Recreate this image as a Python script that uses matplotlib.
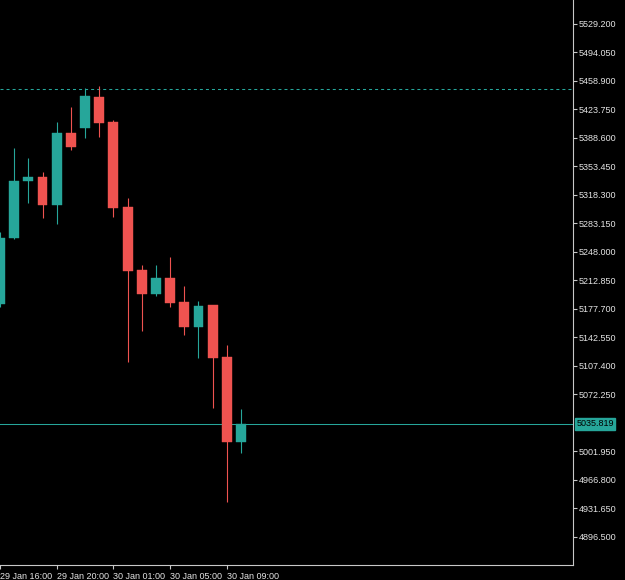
import numpy as np
import matplotlib.pyplot as plt

# hourly candles, 29 Jan 16:00 .. 30 Jan 10:00 (no 00:00 bar)
times = ["29 Jan 16:00", "29 Jan 17:00", "29 Jan 18:00", "29 Jan 19:00", "29 Jan 20:00",
         "29 Jan 21:00", "29 Jan 22:00", "29 Jan 23:00", "30 Jan 01:00", "30 Jan 02:00",
         "30 Jan 03:00", "30 Jan 04:00", "30 Jan 05:00", "30 Jan 06:00", "30 Jan 07:00",
         "30 Jan 08:00", "30 Jan 09:00", "30 Jan 10:00"]
opens = [5183.7, 5264.5, 5335.8, 5340.4, 5305.8, 5394.7, 5400.9, 5439.1, 5408.3, 5303.4,
         5225.6, 5196.0, 5215.7, 5186.1, 5155.3, 5182.4, 5118.2, 5013.3]
highs = [5272.0, 5376.2, 5363.8, 5346.6, 5408.3, 5426.8, 5450.2, 5452.7, 5410.7, 5314.5,
         5231.8, 5231.8, 5241.7, 5205.9, 5187.4, 5182.4, 5133.1, 5054.1]
lows = [5180.0, 5264.0, 5308.3, 5289.8, 5282.4, 5373.7, 5388.5, 5389.7, 5291.0, 5112.1,
        5150.3, 5193.5, 5179.9, 5145.4, 5117.0, 5055.3, 4939.3, 4999.8]
closes = [5265.1, 5335.4, 5340.0, 5305.8, 5394.7, 5377.4, 5440.3, 5407.0, 5302.1, 5224.4,
          5196.0, 5215.7, 5184.9, 5155.3, 5181.2, 5117.0, 5013.3, 5035.819]

last_price = 5035.819
high_line = 5448.6
# 5037.100 is hidden behind the last price tag
price_ticks = [4896.5 + 35.15 * k for k in range(19) if k != 4]
time_tick_idx = [0, 4, 8, 12, 16]

up_col = "#26a69a"
down_col = "#ef5350"
axis_col = "#c8c8c8"
txt_col = "#e4e4e4"

fig = plt.figure(figsize=(6.25, 5.8), dpi=100, facecolor="black")
ax = fig.add_axes([0, 15 / 580, 573 / 625, 565 / 580])
ax.set_facecolor("black")

x = np.arange(len(times))
o = np.array(opens)
h = np.array(highs)
l = np.array(lows)
c = np.array(closes)
cols = [up_col if cc >= oo else down_col for oo, cc in zip(o, c)]

ax.vlines(x, l, h, colors=cols, linewidth=0.8, zorder=2)
ax.bar(x, np.abs(c - o), bottom=np.minimum(o, c), width=0.7, color=cols,
       edgecolor=cols, linewidth=0.3, zorder=3)

ax.axhline(high_line, color=up_col, linewidth=0.75, linestyle=(0, (2.9, 2.9)), zorder=1)
ax.axhline(last_price, color=up_col, linewidth=0.75, zorder=1)

ax.set_xlim(0.07, 40.42)
ax.set_ylim(4861.6, 5558.8)

# price scale on the right
ax.yaxis.tick_right()
ax.set_yticks(price_ticks)
ax.set_yticklabels(["%.3f" % p for p in price_ticks])
ax.tick_params(axis="y", direction="out", length=3, width=0.8, color=axis_col,
               labelcolor=txt_col, labelsize=6.5, pad=1)

ax.set_xticks(time_tick_idx)
ax.set_xticklabels([times[i] for i in time_tick_idx], ha="left")
ax.tick_params(axis="x", direction="out", length=3, width=0.8, color=axis_col,
               labelcolor=txt_col, labelsize=6.5, pad=2)
for lab in ax.get_yticklabels() + ax.get_xticklabels():
    lab.set_family("Liberation Sans")

for s in ["top", "left"]:
    ax.spines[s].set_visible(False)
for s in ["right", "bottom"]:
    ax.spines[s].set_color(axis_col)
    ax.spines[s].set_linewidth(0.8)

# last price tag
ax.text(1.006, last_price, "%.3f" % last_price, transform=ax.get_yaxis_transform(),
        ha="left", va="center", fontsize=6.5, family="Liberation Sans", color="black",
        bbox=dict(boxstyle="square,pad=0.15", facecolor=up_col, edgecolor=up_col),
        clip_on=False, zorder=5)

fig.savefig("out.png", dpi=100, facecolor="black")
